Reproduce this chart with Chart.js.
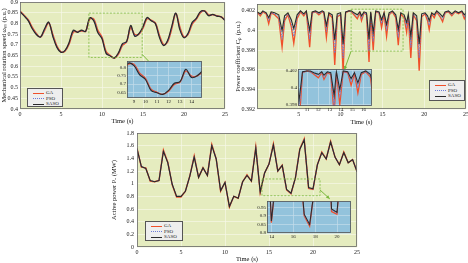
<!DOCTYPE html>
<html><head><meta charset="utf-8">
<script src="https://cdn.jsdelivr.net/npm/chart.js@4/dist/chart.umd.min.js"></script>
<style>
body{margin:0;width:468px;height:263px;background:#fff;position:relative;overflow:hidden;font-family:"Liberation Serif",serif}
canvas{position:absolute}
.lg{position:absolute;background:#eeeeee;border:1px solid #555;box-sizing:border-box;font-size:5px;color:#222;padding-top:1px}
.row{position:relative;height:5.5px;line-height:5.5px}
.sw{position:absolute;left:5px;top:2.5px;width:11px;height:0}
.tx{position:absolute;left:18px;top:0}
</style></head><body>
<canvas id="m1" width="232" height="126" style="left:0;top:0"></canvas>
<canvas id="i1" width="93" height="49" style="left:112px;top:59px"></canvas>
<canvas id="m2" width="234" height="126" style="left:234px;top:0"></canvas>
<canvas id="i2" width="95" height="50" style="left:280px;top:67px"></canvas>
<canvas id="m3" width="250" height="135" style="left:110px;top:128px"></canvas>
<canvas id="i3" width="102" height="44" style="left:252px;top:199px"></canvas>
<div class="lg" id="lg1" style="left:27px;top:88px;width:36px;height:19px"></div>
<div class="lg" id="lg2" style="left:429px;top:80px;width:36px;height:21px"></div>
<div class="lg" id="lg3" style="left:145px;top:221px;width:38px;height:20px"></div>
<script>
// ---------- data ----------
const seriesNames = ['GA', 'PSO', 'SASO'];

const speedTime = [0,0.5,1,1.5,2,2.5,3,3.5,4,4.5,5,5.5,6,6.5,7,7.5,8,8.5,9,9.5,10,10.5,11,11.5,12,12.5,13,13.5,14,14.5,15,15.5,16,16.5,17,17.5,18,18.5,19,19.5,20,20.5,21,21.5,22,22.5,23,23.5,24,24.5,25];
const speedGA   = [0.857,0.838,0.817,0.781,0.752,0.735,0.768,0.802,0.748,0.694,0.667,0.671,0.705,0.760,0.761,0.765,0.763,0.820,0.820,0.766,0.735,0.668,0.650,0.638,0.657,0.698,0.713,0.780,0.748,0.750,0.778,0.822,0.815,0.802,0.745,0.701,0.714,0.775,0.846,0.782,0.737,0.749,0.797,0.820,0.850,0.859,0.840,0.840,0.836,0.831,0.816];
const speedPSO  = [0.856,0.836,0.815,0.778,0.750,0.735,0.771,0.804,0.744,0.691,0.666,0.673,0.709,0.764,0.760,0.767,0.763,0.823,0.816,0.761,0.731,0.664,0.649,0.638,0.660,0.702,0.714,0.785,0.744,0.751,0.782,0.825,0.814,0.801,0.740,0.699,0.717,0.780,0.847,0.776,0.735,0.752,0.801,0.822,0.853,0.858,0.838,0.841,0.835,0.831,0.814];
const speedSASO = [0.855,0.835,0.813,0.775,0.748,0.736,0.775,0.806,0.740,0.688,0.665,0.674,0.712,0.768,0.758,0.768,0.763,0.826,0.812,0.756,0.728,0.660,0.648,0.638,0.662,0.705,0.715,0.790,0.740,0.752,0.785,0.828,0.812,0.800,0.735,0.697,0.720,0.785,0.848,0.770,0.733,0.754,0.805,0.823,0.855,0.858,0.836,0.842,0.834,0.831,0.813];

const cpTime = [0,0.4,0.7,1.1,1.4,1.7,2.1,2.6,3.0,3.3,3.7,4.1,4.4,4.8,5.2,5.6,5.9,6.3,6.6,7.0,7.4,7.8,8.0,8.3,8.6,9.0,9.3,9.6,10.0,10.3,10.6,11.0,11.3,11.6,12.0,12.3,12.5,12.8,13.1,13.4,13.6,13.9,14.2,14.6,14.9,15.2,15.5,15.8,16.2,16.6,16.9,17.2,17.6,17.9,18.1,18.4,18.7,19.1,19.4,19.7,20.1,20.4,20.6,20.9,21.2,21.5,21.9,22.2,22.5,22.9,23.3,23.7,24.1,24.5,24.8,25];
const cpGA   = [0.4019,0.4015,0.4019,0.4017,0.4007,0.4018,0.4016,0.4012,0.3983,0.4010,0.4016,0.4004,0.3987,0.4012,0.4019,0.4015,0.4019,0.3983,0.4018,0.4019,0.4016,0.4019,0.4018,0.3993,0.4017,0.4013,0.3965,0.4014,0.4016,0.3958,0.4018,0.4020,0.4019,0.4016,0.4012,0.4018,0.4010,0.4018,0.4016,0.3968,0.4018,0.3980,0.4019,0.4018,0.4003,0.4017,0.3994,0.4016,0.4019,0.4013,0.3985,0.4017,0.4013,0.3998,0.4014,0.3972,0.4016,0.4010,0.3959,0.4014,0.4017,0.4010,0.4001,0.4017,0.4013,0.4019,0.4014,0.4009,0.4018,0.4019,0.4015,0.4019,0.4017,0.4019,0.4012,0.4016];
const cpPSO  = [0.4019,0.4016,0.4019,0.4018,0.4010,0.4018,0.4017,0.4014,0.3991,0.4012,0.4017,0.4008,0.3994,0.4014,0.4019,0.4016,0.4019,0.3991,0.4018,0.4019,0.4017,0.4019,0.4018,0.3999,0.4018,0.4015,0.3977,0.4015,0.4017,0.3972,0.4018,0.4020,0.4019,0.4017,0.4014,0.4018,0.4012,0.4018,0.4017,0.3979,0.4018,0.3989,0.4019,0.4018,0.4007,0.4018,0.4000,0.4017,0.4019,0.4015,0.3993,0.4018,0.4015,0.4003,0.4015,0.3983,0.4017,0.4012,0.3972,0.4015,0.4018,0.4012,0.4005,0.4018,0.4015,0.4019,0.4015,0.4011,0.4018,0.4019,0.4016,0.4019,0.4018,0.4019,0.4014,0.4017];
const cpSASO = [0.4019,0.4017,0.4020,0.4018,0.4013,0.4019,0.4018,0.4016,0.4000,0.4015,0.4018,0.4011,0.4002,0.4016,0.4020,0.4017,0.4020,0.4000,0.4019,0.4020,0.4018,0.4020,0.4019,0.4005,0.4018,0.4016,0.3990,0.4017,0.4018,0.3986,0.4019,0.4020,0.4020,0.4018,0.4016,0.4019,0.4015,0.4019,0.4018,0.3991,0.4019,0.3998,0.4020,0.4019,0.4011,0.4018,0.4006,0.4018,0.4020,0.4016,0.4001,0.4018,0.4016,0.4008,0.4017,0.3994,0.4018,0.4015,0.3986,0.4017,0.4018,0.4015,0.4010,0.4018,0.4016,0.4020,0.4017,0.4014,0.4019,0.4020,0.4017,0.4020,0.4018,0.4020,0.4016,0.4018];

const powerTime = [0,0.5,1,1.5,2,2.5,3,3.5,4,4.5,5,5.5,6,6.5,7,7.5,8,8.5,9,9.5,10,10.5,11,11.5,12,12.5,13,13.5,14,14.5,15,15.5,16,16.5,17,17.5,18,18.5,19,19.5,20,20.5,21,21.5,22,22.5,23,23.5,24,24.5,25];
const powerGA   = [1.56,1.26,1.25,1.04,1.03,1.05,1.53,1.34,0.98,0.79,0.79,0.88,1.12,1.44,1.10,1.25,1.13,1.62,1.39,0.88,1.02,0.63,0.80,0.77,1.03,1.14,1.04,1.58,0.86,1.17,1.31,1.63,1.20,1.29,0.90,0.84,1.09,1.55,1.71,0.925,0.91,1.30,1.50,1.39,1.67,1.42,1.30,1.50,1.33,1.38,1.19];
const powerPSO  = [1.55,1.27,1.24,1.05,1.03,1.05,1.52,1.33,0.99,0.80,0.80,0.88,1.12,1.43,1.10,1.25,1.13,1.61,1.39,0.89,1.02,0.64,0.80,0.77,1.03,1.13,1.04,1.57,0.87,1.17,1.31,1.62,1.20,1.29,0.905,0.845,1.09,1.54,1.70,0.935,0.915,1.30,1.49,1.39,1.66,1.42,1.30,1.49,1.33,1.38,1.19];
const powerSASO = [1.55,1.27,1.24,1.05,1.03,1.05,1.51,1.33,0.99,0.80,0.80,0.88,1.12,1.42,1.10,1.25,1.13,1.60,1.39,0.89,1.02,0.64,0.80,0.77,1.03,1.13,1.04,1.56,0.87,1.17,1.31,1.61,1.20,1.29,0.91,0.85,1.09,1.54,1.69,0.94,0.92,1.30,1.49,1.39,1.66,1.42,1.30,1.49,1.33,1.38,1.19];

// tick labels
const timeTicks    = [0,5,10,15,20,25];
const cpTimeTicks  = [5,10,15,20,25];
const speedTicks   = [0.4,0.45,0.5,0.55,0.6,0.65,0.7,0.75,0.8,0.85,0.9];
const cpTicks      = [0.392,0.394,0.396,0.398,0.4,0.402];
const powerTicks   = [0,0.2,0.4,0.6,0.8,1,1.2,1.4,1.6,1.8];
const speedInsetX  = [9,10,11,12,13,14];
const speedInsetY  = [0.65,0.7,0.75,0.8];
const cpInsetX     = [11,12,13,14,15,16];
const cpInsetY     = [0.398,0.4,0.402];
const powerInsetX  = [14,16,18,20];
const powerInsetY  = [0.8,0.85,0.9,0.95];

// ---------- styling ----------
const gaColor = '#f0502a', psoColor = '#6c7bd6', sasoColor = '#2a2a2a';
const plotBg = '#e5ecbf', insetBg = '#93c3dc', zoomGreen = '#7ab83c';
const FONT = '"Liberation Serif", "Times New Roman", serif';

function pts(time, vals){ return time.map((t,i)=>({x:t, y:vals[i]})); }
function makeSets(time, ga, pso, saso, tension, w){
  return [
    {label:seriesNames[0], order:3, data:pts(time,ga),   borderColor:gaColor,   borderWidth:w*1.4, pointRadius:0, tension},
    {label:seriesNames[1], order:2, data:pts(time,pso),  borderColor:psoColor,  borderWidth:w, borderDash:[1.5,1.2], pointRadius:0, tension},
    {label:seriesNames[2], order:1, data:pts(time,saso), borderColor:sasoColor, borderWidth:w*1.15, pointRadius:0, tension}
  ];
}
function decor(bg, gridFrame, zoom){
  return {
    id:'decor',
    beforeDraw(c){
      const a=c.chartArea, x=c.ctx;
      x.save(); x.fillStyle=bg; x.fillRect(a.left,a.top,a.right-a.left,a.bottom-a.top); x.restore();
    },
    afterDatasetsDraw(c){
      if(!zoom) return;
      const xs=c.scales.x, ys=c.scales.y, x=c.ctx;
      x.save();
      x.strokeStyle=zoomGreen; x.lineWidth=0.8; x.setLineDash([2,1.5]);
      const l=xs.getPixelForValue(zoom.rect[0]), r=xs.getPixelForValue(zoom.rect[1]);
      const t=ys.getPixelForValue(zoom.rect[3]), b=ys.getPixelForValue(zoom.rect[2]);
      x.strokeRect(l,t,r-l,b-t);
      x.setLineDash([]); x.lineWidth=1;
      const x0=xs.getPixelForValue(zoom.arrow[0]), y0=ys.getPixelForValue(zoom.arrow[1]);
      const x1=xs.getPixelForValue(zoom.arrow[2]), y1=ys.getPixelForValue(zoom.arrow[3]);
      x.beginPath(); x.moveTo(x0,y0); x.lineTo(x1,y1); x.stroke();
      const ang=Math.atan2(y1-y0,x1-x0);
      x.fillStyle=zoomGreen; x.beginPath();
      x.moveTo(x1,y1);
      x.lineTo(x1-4*Math.cos(ang-0.45), y1-4*Math.sin(ang-0.45));
      x.lineTo(x1-4*Math.cos(ang+0.45), y1-4*Math.sin(ang+0.45));
      x.closePath(); x.fill();
      x.restore();
    },
    afterDraw(c){
      const a=c.chartArea, x=c.ctx;
      x.save(); x.strokeStyle=gridFrame; x.lineWidth=0.8;
      x.strokeRect(a.left+0.5,a.top+0.5,a.right-a.left-1,a.bottom-a.top-1); x.restore();
    }
  };
}
function axis(opt){
  const o = {
    type:'linear', min:opt.min, max:opt.max,
    grid:{color:opt.grid, lineWidth:0.7, drawTicks:false},
    border:{display:false},
    ticks:{font:{family:FONT,size:opt.fs}, color:'#222', padding:opt.pad, autoSkip:false, maxRotation:0,
      callback:v=>String(+(+v).toFixed(4))},
    afterBuildTicks:s=>{ s.ticks = opt.ticks.map(v=>({value:v})); },
    afterFit:s=>{
      if(opt.w!==undefined){ s.width=opt.w; s.paddingTop=0; s.paddingBottom=0; }
      if(opt.h!==undefined){ s.height=opt.h; s.paddingLeft=0; s.paddingRight=0; }
    }
  };
  if(opt.title){ o.title={display:true,text:opt.title,font:{family:FONT,size:6.5},color:'#111',padding:{top:0,bottom:opt.tb||0}}; }
  return o;
}
function build(id, sets, xo, yo, pad, bg, frame, zoom){
  new Chart(document.getElementById(id), {
    type:'line',
    data:{datasets:sets},
    options:{
      responsive:false, animation:false, events:[],
      layout:{padding:pad},
      plugins:{legend:{display:false}, tooltip:{enabled:false}},
      scales:{x:axis(xo), y:axis(yo)}
    },
    plugins:[decor(bg, frame, zoom)]
  });
}

const mainGrid = '#f6f8e6', insetGrid = '#c4dcea';

// Chart 1: mechanical rotation speed
build('m1', makeSets(speedTime, speedGA, speedPSO, speedSASO, 0.35, 1.1),
  {min:0,max:25,ticks:timeTicks,grid:mainGrid,fs:6,pad:2,h:17,title:'Time (s)',tb:1},
  {min:0.4,max:0.9,ticks:speedTicks,grid:mainGrid,fs:6,pad:2,w:20,title:'Mechanical rotation speed \u03c9\u2098 (p.u.)'},
  {top:2,right:7,left:0,bottom:0}, plotBg, '#666',
  {rect:[8.4,14.9,0.641,0.848], arrow:[14.9,0.655,16.4,0.595]});
build('i1', makeSets(speedTime, speedGA, speedPSO, speedSASO, 0.35, 1),
  {min:8.4,max:14.9,ticks:speedInsetX,grid:insetGrid,fs:5,pad:1,h:10},
  {min:0.616,max:0.84,ticks:speedInsetY,grid:insetGrid,fs:5,pad:1,w:15},
  {top:2,right:3,left:0,bottom:0}, insetBg, '#555', null);

// Chart 2: power coefficient
build('m2', makeSets(cpTime, cpGA, cpPSO, cpSASO, 0, 0.95),
  {min:0,max:25,ticks:cpTimeTicks,grid:mainGrid,fs:6,pad:2,h:17,title:'Time (s)',tb:0},
  {min:0.392,max:0.4027,ticks:cpTicks,grid:mainGrid,fs:6,pad:2,w:23,title:'Power coefficient C\u209a (p.u.)'},
  {top:4,right:2,left:0,bottom:0}, plotBg, '#666',
  {rect:[11.26,17.47,0.3979,0.40217], arrow:[11.26,0.3979,10.45,0.396]});
build('i2', makeSets(cpTime, cpGA, cpPSO, cpSASO, 0, 0.9),
  {min:10.2,max:16.75,ticks:cpInsetX,grid:insetGrid,fs:5,pad:1,h:11},
  {min:0.39788,max:0.40223,ticks:cpInsetY,grid:insetGrid,fs:5,pad:1,w:18},
  {top:2,right:3,left:0,bottom:0}, insetBg, '#555', null);

// Chart 3: active power
build('m3', makeSets(powerTime, powerGA, powerPSO, powerSASO, 0, 1),
  {min:0,max:25,ticks:timeTicks,grid:mainGrid,fs:6,pad:2,h:16,title:'Time (s)',tb:0},
  {min:0,max:1.8,ticks:powerTicks,grid:mainGrid,fs:6,pad:3,w:27,title:'Active power P\u2091 (MW)'},
  {top:5,right:3,left:0,bottom:0}, plotBg, '#666',
  {rect:[14.2,20.8,0.81,1.074], arrow:[20.8,0.9,21.9,0.76]});
build('i3', makeSets(powerTime, powerGA, powerPSO, powerSASO, 0, 0.9),
  {min:13.6,max:21.28,ticks:powerInsetX,grid:insetGrid,fs:5,pad:1,h:10},
  {min:0.8,max:0.987,ticks:powerInsetY,grid:insetGrid,fs:5,pad:1,w:15},
  {top:2,right:3,left:0,bottom:0}, insetBg, '#555', null);

// legends
const lgStyles = [
  'border-top:1.3px solid '+gaColor,
  'border-top:1px dotted '+psoColor,
  'border-top:1.2px solid '+sasoColor
];
['lg1','lg2','lg3'].forEach(id=>{
  const el=document.getElementById(id);
  seriesNames.forEach((n,i)=>{
    const r=document.createElement('div'); r.className='row';
    const s=document.createElement('div'); s.className='sw'; s.style.cssText=lgStyles[i];
    const t=document.createElement('div'); t.className='tx'; t.textContent=n;
    r.appendChild(s); r.appendChild(t); el.appendChild(r);
  });
});
</script>
</body></html>
